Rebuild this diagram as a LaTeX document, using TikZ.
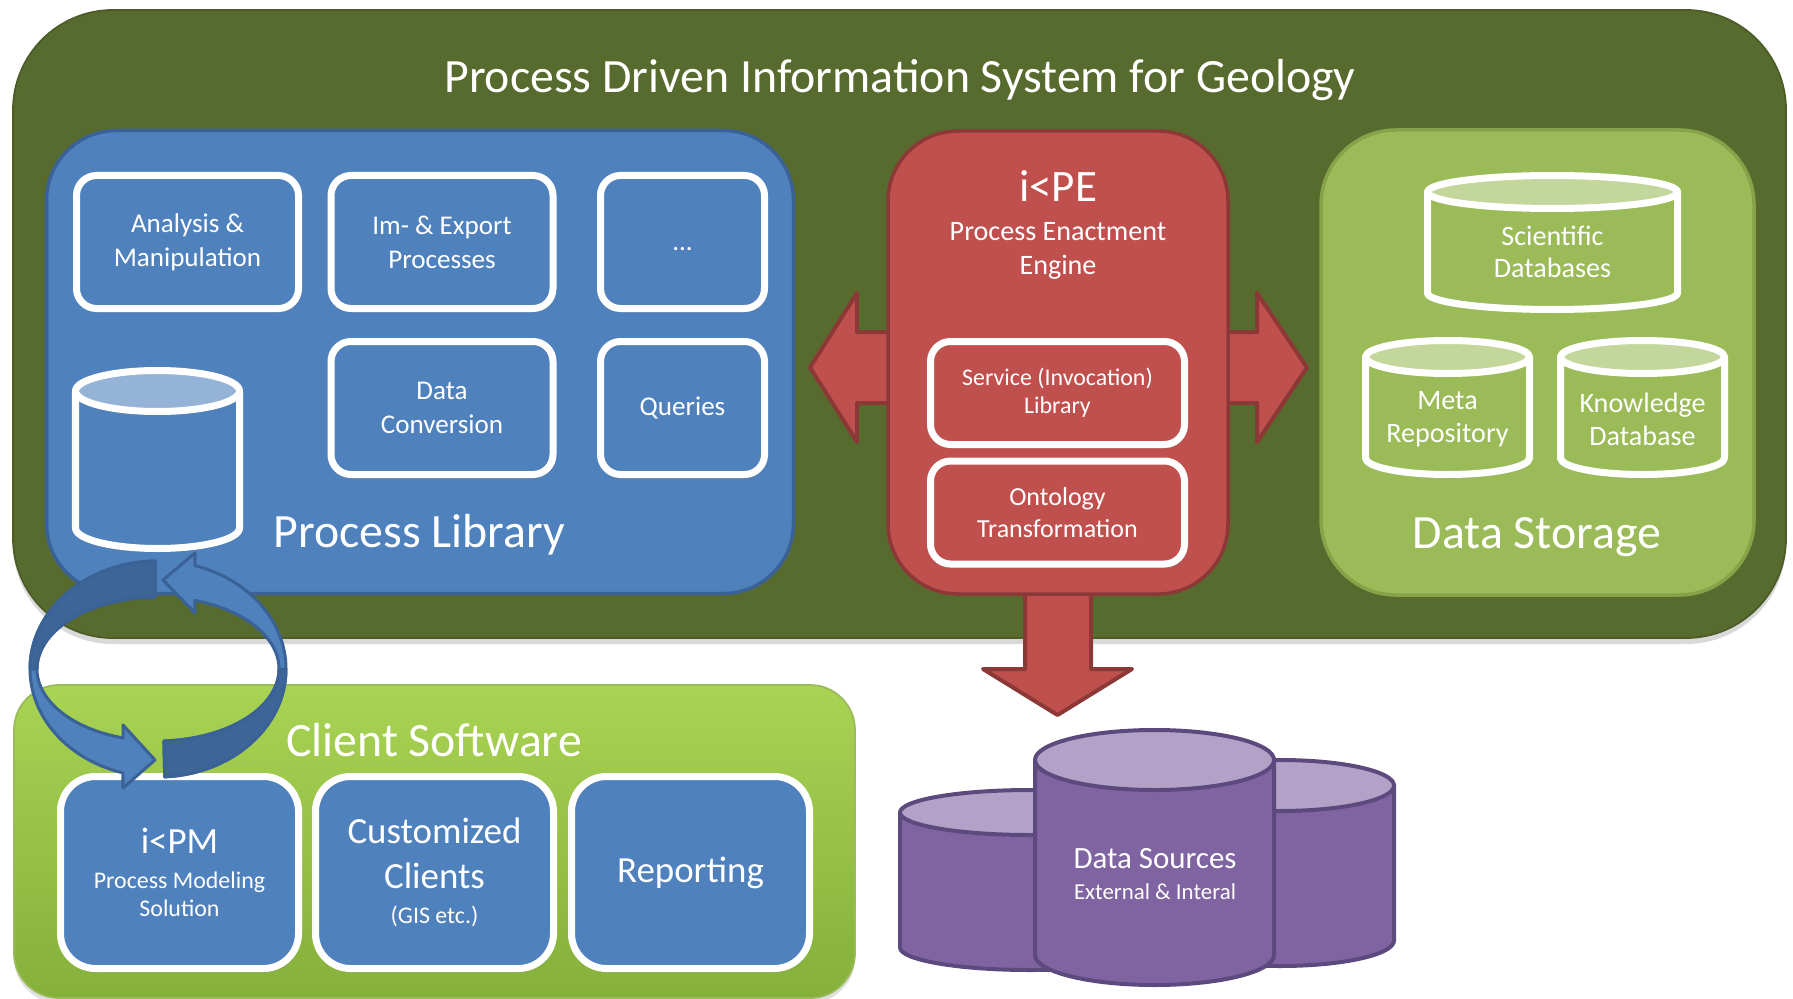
\documentclass[tikz,border=0pt]{standalone}
\usepackage{fontspec}
\setmainfont{Carlito}
\usetikzlibrary{shadows}

\definecolor{geoolive}{HTML}{586B2F}
\definecolor{geoedge}{HTML}{4C5C28}
\definecolor{libblue}{HTML}{4F81BD}
\definecolor{libedge}{HTML}{3A6296}
\definecolor{libtop}{HTML}{95B3D7}
\definecolor{cycdark}{HTML}{3D6597}
\definecolor{pered}{HTML}{C0504D}
\definecolor{peedge}{HTML}{8C3836}
\definecolor{storegreen}{HTML}{9BBB59}
\definecolor{storeedge}{HTML}{86A34A}
\definecolor{storetop}{HTML}{C3D69B}
\definecolor{clienttop}{HTML}{A9D353}
\definecolor{clientbot}{HTML}{85B03A}
\definecolor{srcpurple}{HTML}{8064A2}
\definecolor{srctop}{HTML}{B2A2C7}
\definecolor{srcedge}{HTML}{5C4A7E}

\newcommand{\hugetxt}{\fontsize{13.6}{16}\selectfont}
\newcommand{\petxt}{\fontsize{12.8}{15}\selectfont}
\newcommand{\bigtxt}{\fontsize{10.5}{12.8}\selectfont}
\newcommand{\boxtxt}{\fontsize{7.7}{9.6}\selectfont}
\newcommand{\enginetxt}{\fontsize{8}{9.7}\selectfont}
\newcommand{\drumtxt}{\fontsize{8}{9.3}\selectfont}
\newcommand{\ontotxt}{\fontsize{7.4}{9.1}\selectfont}
\newcommand{\smalltxt}{\fontsize{6.8}{8}\selectfont}
\newcommand{\srctxt}{\fontsize{8.8}{10}\selectfont}
\newcommand{\exttxt}{\fontsize{6.5}{8.8}\selectfont}

% database drum: cx, rx, top y, bottom y, ry, body, lid, line style
\newcommand{\drum}[8]{%
  \filldraw[#8, fill=#6] (#1-#2,#3) -- (#1-#2,#4)
    arc[start angle=180, end angle=360, x radius=#2, y radius=#5]
    -- (#1+#2,#3) -- cycle;
  \filldraw[#8, fill=#7] (#1,#3) ellipse[x radius=#2, y radius=#5];
}

\begin{document}
\begin{tikzpicture}[
            outerbox/.style={
                fill=geoolive,
                draw=geoedge,
                line width=0.5pt,
                rounded corners=1cm,
                inner sep=0pt,
                drop shadow={shadow xshift=0cm, shadow yshift=-0.06cm, opacity=0.3}
            },
            panel/.style={
                line width=0.035cm,
                inner sep=0pt
            },
            tile/.style={
                draw=white,
                line width=0.07cm,
                rounded corners=0.2cm,
                text=white,
                align=center,
                inner sep=0pt,
                drop shadow={shadow xshift=0.02cm, shadow yshift=-0.04cm, opacity=0.25}
            },
            caption/.style={
                text=white,
                align=center,
                inner sep=0pt
            },
            whitedrum/.style={draw=white, line width=0.07cm, line join=round},
            purpledrum/.style={draw=srcedge, line width=0.04cm, line join=round},
            redarrow/.style={fill=pered, draw=peedge, line width=0.04cm, line join=round},
            cycfront/.style={fill=libblue, draw=libedge, line width=0.03cm, line join=round},
            cycback/.style={fill=cycdark, draw=libedge, line width=0.03cm, line join=round}
        ]
        \useasboundingbox (0,0) rectangle (17.93,-9.99);

        % information system frame
        \node[outerbox, minimum width=17.73cm, minimum height=6.28cm] (geosys) at (8.995,-3.24) {};
        \node[caption, font=\hugetxt] (title) at (9.00,-0.80) {Process Driven Information System for Geology};

        % process library
        \node[panel, fill=libblue, draw=libedge, rounded corners=0.7cm,
              minimum width=7.47cm, minimum height=4.63cm] (proclib) at (4.20,-3.62) {};
        \node[tile, fill=libblue, minimum width=2.22cm, minimum height=1.33cm, font=\boxtxt]
            (analysis) at (1.875,-2.42) {Analysis \&\\Manipulation};
        \node[tile, fill=libblue, minimum width=2.22cm, minimum height=1.33cm, font=\boxtxt]
            (imexport) at (4.42,-2.42) {Im- \& Export\\Processes};
        \node[tile, fill=libblue, minimum width=1.64cm, minimum height=1.33cm, font=\boxtxt]
            (more) at (6.825,-2.42) {\raisebox{-0.09cm}[0pt][0pt]{...}};
        \node[tile, fill=libblue, minimum width=2.22cm, minimum height=1.33cm, font=\boxtxt]
            (conversion) at (4.42,-4.08) {Data\\Conversion};
        \node[tile, fill=libblue, minimum width=1.64cm, minimum height=1.33cm, font=\boxtxt]
            (queries) at (6.825,-4.08) {Queries};
        \drum{1.575}{0.82}{-3.91}{-5.28}{0.205}{libblue}{libtop}{whitedrum}
        \node[caption, font=\hugetxt] (proclibname) at (4.195,-5.35) {Process Library};

        % block arrows of the engine
        \draw[redarrow] (8.10,-3.675) -- (8.57,-2.93) -- (8.57,-3.32) -- (12.57,-3.32)
            -- (12.57,-2.93) -- (13.07,-3.675) -- (12.57,-4.42) -- (12.57,-4.03)
            -- (8.57,-4.03) -- (8.57,-4.42) -- cycle;
        \draw[redarrow] (10.25,-5.90) -- (10.91,-5.90) -- (10.91,-6.69) -- (11.32,-6.69)
            -- (10.575,-7.15) -- (9.83,-6.69) -- (10.25,-6.69) -- cycle;

        % process enactment engine
        \node[panel, fill=pered, draw=peedge, rounded corners=0.7cm,
              minimum width=3.40cm, minimum height=4.63cm] (engine) at (10.58,-3.625) {};
        \node[caption, font=\petxt] (pename) at (10.58,-1.86) {i<PE};
        \node[caption, font=\enginetxt] (pedesc) at (10.58,-2.51) {Process Enactment\\Engine};
        \node[tile, fill=pered, minimum width=2.54cm, minimum height=1.03cm, font=\smalltxt]
            (service) at (10.575,-3.93) {Service (Invocation)\\Library};
        \node[tile, fill=pered, minimum width=2.54cm, minimum height=1.03cm, font=\ontotxt]
            (ontology) at (10.575,-5.125) {Ontology\\Transformation};

        % data storage
        \node[panel, fill=storegreen, draw=storeedge, rounded corners=0.75cm,
              minimum width=4.33cm, minimum height=4.65cm] (storage) at (15.375,-3.625) {};
        \drum{15.525}{1.25}{-1.92}{-2.93}{0.165}{storegreen}{storetop}{whitedrum}
        \drum{14.475}{0.82}{-3.57}{-4.58}{0.165}{storegreen}{storetop}{whitedrum}
        \drum{16.425}{0.82}{-3.57}{-4.58}{0.165}{storegreen}{storetop}{whitedrum}
        \node[caption, font=\drumtxt] (scidb) at (15.525,-2.52) {Scientific\\Databases};
        \node[caption, font=\drumtxt] (metarepo) at (14.475,-4.19) {Meta\\Repository};
        \node[caption, font=\drumtxt] (knowdb) at (16.425,-4.19) {Knowledge\\Database};
        \node[caption, font=\hugetxt] (storagename) at (15.37,-5.37) {Data Storage};

        % client software
        \node[panel, top color=clienttop, bottom color=clientbot, draw=storegreen, line width=0.5pt,
              rounded corners=0.45cm, minimum width=8.41cm, minimum height=3.13cm,
              drop shadow={shadow xshift=0cm, shadow yshift=-0.05cm, opacity=0.25}] (client) at (4.345,-8.415) {};
        \node[caption, font=\hugetxt] (clientname) at (4.34,-7.40) {Client Software};
        \node[tile, fill=libblue, rounded corners=0.35cm, minimum width=2.38cm, minimum height=1.92cm,
              font=\smalltxt] (modeler) at (1.795,-8.725) {{\bigtxt i<PM}\\[2pt]Process Modeling\\Solution};
        \node[tile, fill=libblue, rounded corners=0.35cm, minimum width=2.38cm, minimum height=1.92cm,
              font=\bigtxt] (custom) at (4.345,-8.725) {Customized\\Clients\\[-3pt]{\smalltxt (GIS etc.)}};
        \node[tile, fill=libblue, rounded corners=0.35cm, minimum width=2.38cm, minimum height=1.92cm,
              font=\bigtxt] (reporting) at (6.905,-8.725) {Reporting};

        % data sources
        \drum{10.30}{1.30}{-8.125}{-9.475}{0.225}{srcpurple}{srctop}{purpledrum}
        \drum{12.80}{1.14}{-7.855}{-9.405}{0.255}{srcpurple}{srctop}{purpledrum}
        \drum{11.545}{1.195}{-7.60}{-9.55}{0.30}{srcpurple}{srctop}{purpledrum}
        \node[caption, font=\exttxt] (sources) at (11.55,-8.74) {{\srctxt Data Sources}\\External \& Interal};

        % modelling cycle
        \draw[cycfront] ({1.58+1.28*cos(91.3)},{-6.69+1.08*sin(91.3)})
            arc[start angle=91.3, end angle=254.1, x radius=1.28, y radius=1.08]
            -- (1.23,-7.88) -- (1.55,-7.60) -- (1.23,-7.25)
            -- ({1.58+1.21*cos(253.2)},{-6.69+0.72*sin(253.2)})
            arc[start angle=253.2, end angle=91.4, x radius=1.21, y radius=0.72] -- cycle;
        \draw[cycback] ({1.58+1.28*cos(91.3)},{-6.69+1.08*sin(91.3)})
            arc[start angle=91.3, end angle=180, x radius=1.28, y radius=1.08]
            -- (0.37,-6.69)
            arc[start angle=180, end angle=91.4, x radius=1.21, y radius=0.72] -- cycle;
        \draw[cycfront] ({1.58+1.28*cos(273)},{-6.69+1.08*sin(273)})
            arc[start angle=273, end angle=433.2, x radius=1.28, y radius=1.08]
            -- (1.95,-5.53) -- (1.63,-5.80) -- (1.95,-6.13)
            -- ({1.58+1.21*cos(72.2)},{-6.69+0.72*sin(72.2)})
            arc[start angle=72.2, end angle=-87.2, x radius=1.21, y radius=0.72] -- cycle;
        \draw[cycback] ({1.58+1.28*cos(273)},{-6.69+1.08*sin(273)})
            arc[start angle=273, end angle=360, x radius=1.28, y radius=1.08]
            -- (2.79,-6.69)
            arc[start angle=0, end angle=-87.2, x radius=1.21, y radius=0.72] -- cycle;
        \end{tikzpicture}
\end{document}
